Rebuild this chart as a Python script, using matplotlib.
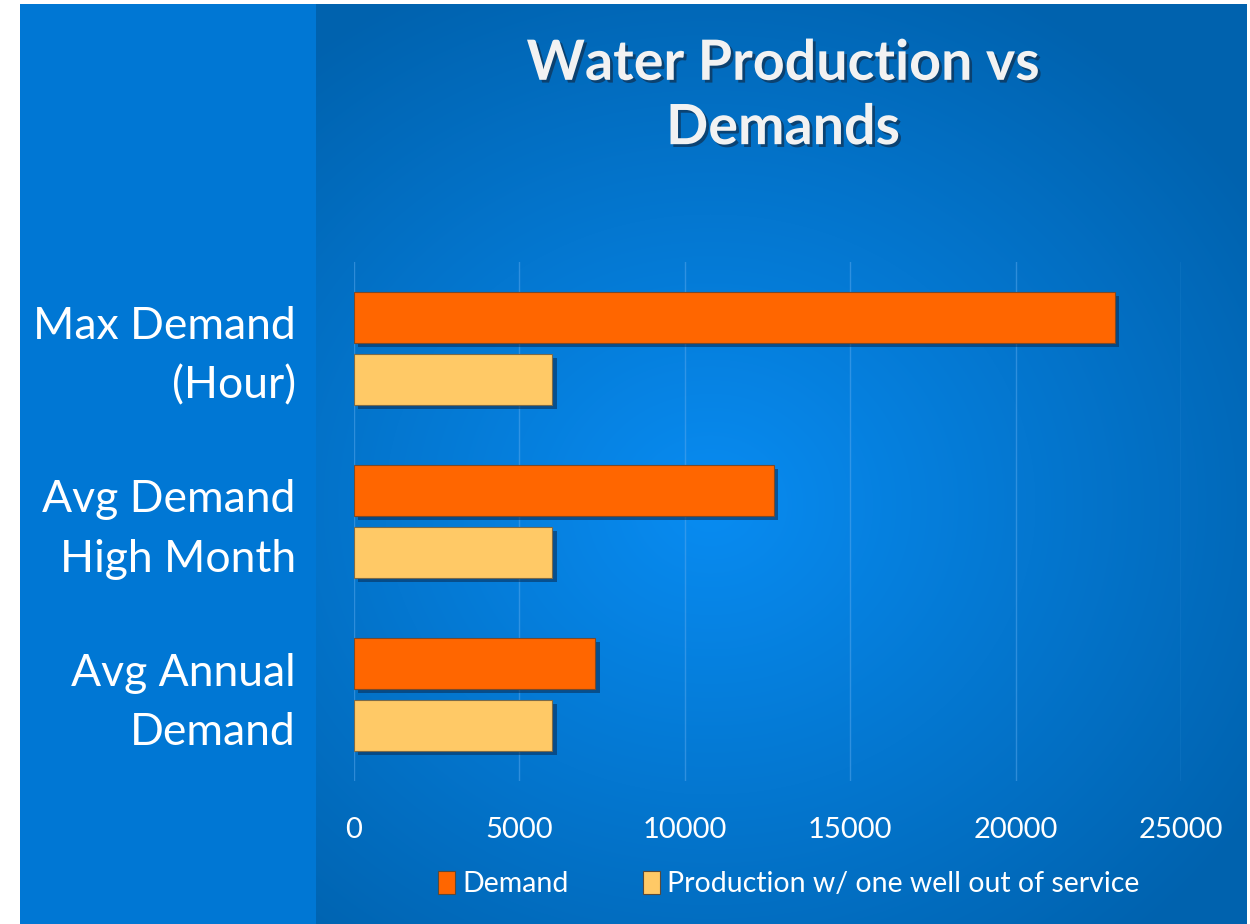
import numpy as np
import matplotlib
matplotlib.use("Agg")
import matplotlib.pyplot as plt
import matplotlib.patheffects as pe
import matplotlib.transforms as mtransforms
from matplotlib.patches import Patch

categories = ["Avg Annual\nDemand", "Avg Demand\nHigh Month", "Max Demand\n(Hour)"]
demand = [7300, 12700, 23000]
production = [6000, 6000, 6000]
series_names = ["Demand", "Production w/ one well out of service"]
xticks = [0, 5000, 10000, 15000, 20000, 25000]

W, H = 1250, 924
fig = plt.figure(figsize=(W / 100, H / 100), dpi=100)
fig.patch.set_facecolor("white")

# background
bg = fig.add_axes([0, 0, 1, 1], zorder=0)
bg.set_xlim(0, W); bg.set_ylim(H, 0); bg.axis("off")
bg.add_patch(plt.Rectangle((20, 4), 296, H, color="#0077D4", lw=0))
yy, xx = np.mgrid[0:H - 4, 0:W - 316 - 3]
cx, cy = 710 - 316, 500
r = np.sqrt(((xx - cx) / 650) ** 2 + ((yy - cy) / 580) ** 2)
r = np.clip(r, 0, 1)
c0 = np.array([0x08, 0x8C, 0xF2]) / 255
c1 = np.array([0x00, 0x62, 0xAE]) / 255
img = c0[None, None, :] * (1 - r[..., None]) + c1[None, None, :] * r[..., None]
bg.imshow(img, extent=(316, W - 3, H, 4), aspect="auto", interpolation="bilinear")
bg.set_xlim(0, W); bg.set_ylim(H, 0)

# main axes: x0=354 px, 25000 -> 1181 px; y 262..781
x0, x1 = 354, 1181
top, bot = 262, 781
ax = fig.add_axes([x0 / W, 1 - bot / H, (x1 - x0) / W, (bot - top) / H], zorder=2)
ax.patch.set_alpha(0)
ax.set_xlim(0, 25000)
ax.set_ylim(-0.5, 2.5)

y = np.arange(len(categories))
h = 0.295
off = 0.179
shadow = [pe.SimplePatchShadow(offset=(3, -3), shadow_rgbFace="#0a2a50", alpha=0.55), pe.Normal()]
b1 = ax.barh(y + off, demand, height=h, color="#FF6600", edgecolor="#7a4a2a", linewidth=0.8, zorder=3)
b2 = ax.barh(y - off, production, height=h, color="#FFC966", edgecolor="#7a6a4a", linewidth=0.8, zorder=3)
for b in list(b1) + list(b2):
    b.set_path_effects(shadow)

ax.set_xticks(xticks)
ax.set_xticklabels([str(t) for t in xticks])
ax.set_yticks(y)
ax.set_yticklabels(categories, fontsize=32, color="white", family="Lato", linespacing=1.55)
ax.tick_params(axis="y", length=0, pad=42)
ax.tick_params(axis="x", length=0, pad=26, labelsize=21, labelcolor="white")
shift = mtransforms.ScaledTranslation(0, 5 / 100, fig.dpi_scale_trans)
for lab in ax.get_yticklabels():
    lab.set_transform(lab.get_transform() + shift)
for lab in ax.get_xticklabels():
    lab.set_family("Lato")
ax.grid(axis="x", color="#5aa8ec", linewidth=1, alpha=0.5, zorder=0)
for s in ax.spines.values():
    s.set_visible(False)

title = fig.text(783 / W, 1 - 96 / H, "Water Production vs\nDemands", ha="center", va="center",
                 fontsize=40, fontweight="bold", color="#F2F2F2", family="Lato", linespacing=1.35)
title.set_path_effects([pe.withSimplePatchShadow(offset=(2, -2), shadow_rgbFace="#103050", alpha=0.7)])

handles = [Patch(facecolor="#FF6600", edgecolor="#5a4a3a", linewidth=0.8),
           Patch(facecolor="#FFC966", edgecolor="#5a4a3a", linewidth=0.8)]
leg = fig.legend(handles, series_names, loc="center", bbox_to_anchor=(789 / W, 1 - 884 / H), ncol=2,
                 frameon=False, fontsize=20.5, handlelength=0.6, handleheight=0.9, handletextpad=0.25,
                 columnspacing=2.6)
for t in leg.get_texts():
    t.set_color("white"); t.set_family("Lato")

fig.savefig("out.png", dpi=100)
